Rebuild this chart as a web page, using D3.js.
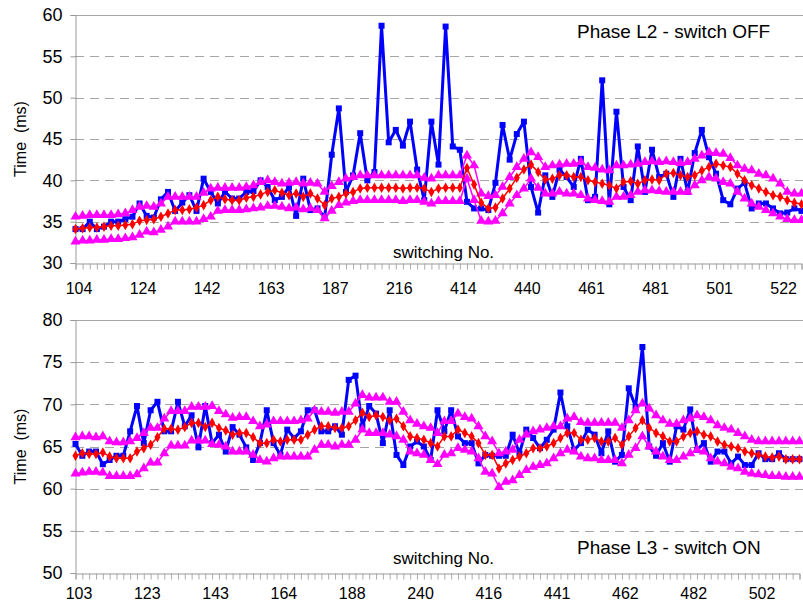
<!DOCTYPE html>
<html>
<head>
<meta charset="utf-8">
<script src="https://cdn.jsdelivr.net/npm/d3@7/dist/d3.min.js"></script>
<style>
  body { margin: 0; background: #fff; }
  svg { display: block; font-family: "Liberation Sans", Arial, sans-serif; }
</style>
</head>
<body>
<svg id="chart" width="803" height="605"></svg>
<script>
// Phase L2 - switch OFF (top) and Phase L3 - switch ON (bottom), times in ms
var topLabels = [104, 124, 142, 163, 187, 216, 414, 440, 461, 481, 501, 522];
var topMeasured = [34.1, 34.1, 35.0, 34.1, 34.4, 35.0, 35.0, 35.3, 35.6, 37.2, 35.7, 35.5, 37.7, 38.6, 36.3, 37.3, 38.2, 36.3, 40.2, 38.6,
  37.2, 38.6, 37.8, 37.8, 38.6, 38.7, 40.0, 39.2, 37.6, 38.0, 39.2, 35.7, 40.2, 36.4, 36.6, 35.5, 43.1, 48.7, 38.6, 40.6,
  45.7, 40.0, 41.0, 58.7, 44.6, 46.1, 44.2, 47.1, 41.3, 37.6, 47.1, 41.9, 58.6, 44.1, 43.7, 37.4, 36.6, 36.6, 36.4, 39.7,
  46.7, 42.5, 45.6, 47.1, 39.2, 36.1, 40.6, 38.0, 41.3, 40.4, 39.2, 42.6, 37.6, 38.0, 52.1, 37.1, 48.3, 39.2, 37.6, 44.1,
  38.6, 43.7, 40.4, 40.8, 38.0, 42.6, 38.6, 43.3, 46.1, 42.8, 40.8, 37.6, 37.1, 39.0, 39.7, 36.6, 37.2, 37.2, 36.6, 36.0,
  36.1, 36.6, 36.3];
var topMean = [34.1, 34.2, 34.3, 34.3, 34.4, 34.5, 34.5, 34.6, 34.7, 35.1, 35.2, 35.3, 35.6, 36.0, 36.4, 36.4, 36.5, 36.7, 37.0, 37.6,
  38.0, 37.7, 37.6, 37.6, 37.9, 38.0, 38.3, 38.6, 38.8, 38.5, 38.2, 38.4, 38.0, 38.4, 37.8, 37.0, 37.8, 38.0, 38.4, 38.6,
  39.0, 39.1, 39.1, 39.1, 39.1, 39.1, 39.0, 39.1, 39.1, 39.0, 38.6, 39.0, 39.1, 39.1, 39.1, 41.5, 39.5, 37.3, 36.6, 36.7,
  37.8, 39.0, 40.3, 41.3, 41.9, 41.0, 40.1, 40.2, 40.6, 40.6, 40.4, 40.4, 40.0, 39.8, 39.6, 39.4, 39.0, 39.8, 39.9, 39.6,
  40.0, 40.1, 40.0, 40.8, 40.9, 40.6, 40.4, 40.6, 41.2, 41.6, 42.0, 41.8, 41.6, 40.8, 40.0, 39.4, 39.0, 38.6, 38.2, 38.0,
  37.6, 37.3, 37.1];
var topUpper = [35.6, 35.7, 35.8, 35.8, 35.8, 35.8, 35.9, 36.0, 36.4, 36.8, 36.9, 36.8, 37.2, 38.0, 38.0, 38.0, 38.0, 38.0, 38.5, 39.0,
  39.1, 39.1, 39.1, 39.1, 39.2, 39.4, 39.8, 40.0, 39.8, 39.6, 39.7, 39.8, 39.6, 39.7, 39.6, 38.6, 39.3, 39.8, 40.2, 40.4,
  40.6, 40.6, 40.6, 40.6, 40.6, 40.6, 40.6, 40.6, 40.6, 40.3, 40.2, 40.6, 40.6, 40.6, 40.6, 43.0, 41.8, 38.4, 38.1, 38.2,
  39.2, 40.4, 41.6, 42.6, 43.4, 42.8, 41.6, 41.8, 41.9, 42.0, 42.0, 42.2, 41.6, 41.5, 41.3, 41.2, 41.8, 41.8, 41.9, 42.0,
  42.2, 42.3, 42.2, 42.3, 42.2, 42.1, 42.2, 42.6, 43.0, 43.4, 43.3, 43.2, 42.7, 41.8, 41.4, 41.2, 40.8, 40.6, 40.2, 39.6,
  38.6, 38.4, 38.4];
var topLower = [32.6, 32.7, 32.7, 32.8, 32.8, 32.9, 32.9, 33.0, 33.1, 33.4, 33.8, 33.7, 34.0, 34.4, 35.0, 35.0, 35.0, 35.0, 35.3, 35.6,
  36.3, 36.4, 36.4, 36.4, 36.5, 36.6, 36.7, 36.9, 36.9, 36.8, 36.6, 36.7, 36.5, 36.6, 36.4, 35.4, 36.3, 37.0, 37.3, 37.5,
  37.6, 37.6, 37.6, 37.6, 37.6, 37.6, 37.5, 37.6, 37.6, 37.4, 37.2, 37.5, 37.5, 37.5, 37.5, 40.2, 37.6, 35.1, 35.0, 35.1,
  36.0, 37.2, 38.2, 39.0, 40.2, 39.1, 38.4, 38.4, 38.6, 38.4, 38.4, 38.2, 37.8, 37.6, 37.5, 37.4, 38.0, 38.0, 38.2, 38.6,
  38.8, 38.8, 38.7, 38.6, 38.6, 38.6, 38.6, 39.4, 40.0, 40.4, 40.2, 39.8, 39.6, 38.6, 37.8, 37.2, 36.8, 36.4, 36.0, 35.6,
  35.3, 35.2, 35.2];

var botLabels = [103, 123, 143, 164, 188, 240, 416, 441, 462, 482, 502];
var botMeasured = [65.3, 63.9, 64.4, 64.4, 62.9, 63.4, 63.9, 63.9, 66.8, 69.8, 65.4, 69.3, 70.3, 66.8, 66.8, 70.3, 67.4, 68.7, 64.9, 69.8,
  65.4, 66.4, 64.4, 67.3, 66.4, 64.9, 63.4, 65.4, 69.3, 65.4, 64.0, 67.0, 66.0, 66.8, 69.3, 69.3, 66.8, 66.8, 67.4, 66.4,
  72.9, 73.4, 67.4, 69.8, 68.9, 65.4, 69.3, 64.0, 62.8, 65.0, 65.6, 65.0, 63.4, 69.3, 66.8, 69.3, 66.2, 65.4, 65.4, 63.0,
  64.0, 63.9, 63.9, 63.9, 66.4, 64.2, 67.0, 66.0, 64.8, 65.8, 67.0, 71.4, 67.4, 64.6, 65.4, 67.0, 66.4, 64.2, 66.8, 63.2,
  64.0, 71.9, 69.7, 76.8, 65.0, 63.9, 65.4, 63.2, 67.4, 67.0, 69.4, 64.6, 65.4, 63.2, 64.4, 64.4, 63.0, 63.8, 62.8, 62.8,
  64.2, 63.5, 63.5, 64.2, 63.5, 63.5, 63.5];
var botMean = [63.9, 64.2, 64.1, 64.1, 64.3, 63.8, 63.6, 63.6, 63.6, 64.4, 64.8, 65.2, 66.1, 67.1, 67.1, 67.0, 67.3, 67.8, 67.8, 67.3,
  67.8, 67.2, 66.9, 66.4, 66.6, 66.6, 66.1, 65.4, 65.4, 65.8, 65.6, 65.8, 65.8, 65.8, 66.4, 67.0, 67.4, 67.4, 67.2, 67.2,
  67.4, 68.1, 69.0, 68.5, 68.7, 68.5, 68.1, 68.3, 67.4, 66.2, 66.0, 65.8, 65.4, 65.0, 66.2, 66.2, 67.0, 66.6, 66.2, 65.4,
  64.0, 64.0, 62.4, 63.0, 63.4, 63.8, 64.2, 64.8, 64.8, 65.0, 65.4, 66.0, 66.6, 66.6, 65.8, 65.8, 66.0, 65.6, 65.6, 66.0,
  65.2, 66.2, 67.2, 68.1, 67.2, 66.6, 66.2, 65.6, 65.6, 66.2, 66.6, 66.8, 66.4, 66.2, 65.6, 65.2, 65.0, 64.8, 64.4, 64.2,
  64.0, 63.8, 63.7, 63.8, 63.5, 63.5, 63.5];
var botUpper = [66.1, 66.2, 66.2, 66.1, 66.2, 65.6, 65.5, 65.5, 65.6, 66.0, 66.6, 67.2, 67.2, 68.3, 69.2, 69.2, 69.2, 69.7, 69.7, 69.7,
  69.8, 69.2, 68.8, 68.4, 68.5, 68.5, 68.0, 67.4, 67.6, 68.0, 68.0, 68.0, 68.0, 68.1, 68.3, 69.3, 69.1, 69.1, 69.0, 69.1,
  69.1, 70.1, 71.1, 70.8, 70.8, 70.8, 70.3, 70.3, 69.1, 68.1, 67.7, 67.4, 67.2, 66.6, 68.0, 68.0, 68.9, 68.5, 68.3, 67.4,
  66.2, 65.6, 64.2, 64.4, 64.6, 65.8, 66.4, 66.8, 67.0, 67.2, 67.4, 67.4, 68.3, 68.5, 67.9, 67.8, 67.8, 67.8, 67.8, 67.8,
  67.2, 68.1, 69.3, 70.1, 69.5, 68.7, 68.1, 67.7, 67.7, 68.1, 68.3, 68.7, 68.5, 68.1, 67.5, 67.2, 67.0, 66.6, 66.2, 65.8,
  65.6, 65.6, 65.6, 65.6, 65.6, 65.6, 65.6];
var botLower = [61.8, 61.9, 62.0, 62.0, 61.9, 61.5, 61.5, 61.5, 61.5, 61.7, 62.4, 63.1, 63.1, 64.2, 65.1, 65.1, 65.1, 65.7, 65.7, 65.7,
  65.3, 65.2, 65.0, 64.4, 64.4, 64.4, 64.0, 63.4, 63.2, 63.6, 63.8, 63.8, 63.8, 63.8, 63.8, 64.6, 65.2, 65.2, 65.0, 65.2,
  65.2, 65.8, 67.0, 66.6, 66.6, 66.6, 66.4, 66.2, 65.8, 64.4, 64.2, 64.0, 63.4, 62.9, 64.0, 64.2, 64.8, 64.6, 64.4, 63.6,
  62.0, 61.8, 60.2, 60.8, 61.0, 61.6, 62.2, 62.6, 62.8, 63.0, 63.6, 64.2, 64.6, 64.4, 63.8, 63.6, 63.6, 63.4, 63.4, 63.4,
  63.0, 64.0, 64.8, 66.2, 65.0, 64.4, 63.8, 63.4, 63.4, 63.8, 64.2, 64.6, 64.4, 63.6, 63.2, 63.0, 62.6, 62.4, 62.0, 61.8,
  61.7, 61.6, 61.5, 61.5, 61.4, 61.4, 61.4];

var svg = d3.select('#chart');
svg.append('rect').attr('width', 803).attr('height', 605).attr('fill', '#fff');

function drawPanel(opt) {
	var x = d3.scaleLinear().domain([0, opt.measured.length - 1]).range([75.5, opt.xEnd]);
	var y = d3.scaleLinear().domain(opt.yDomain).range([opt.bottom, opt.top]);
	var g = svg.append('g');
	var yTicks = d3.range(opt.yDomain[0], opt.yDomain[1] + 1, 5);

	// dashed grid
	g.selectAll('.grid')
		.data(yTicks.slice(1, -1))
		.join('line')
			.attr('x1', 75).attr('x2', 803)
			.attr('y1', function(d) { return Math.round(y(d)) + 0.5; })
			.attr('y2', function(d) { return Math.round(y(d)) + 0.5; })
			.attr('stroke', '#a6a6a6')
			.attr('stroke-dasharray', '9,6');

	// top border of plot area
	g.append('line')
		.attr('x1', 75).attr('x2', 803)
		.attr('y1', opt.top + 0.5).attr('y2', opt.top + 0.5)
		.attr('stroke', '#a6a6a6');

	var yAxis = g.append('g')
		.attr('transform', 'translate(75.5,0)')
		.call(d3.axisLeft(y).tickValues(yTicks).tickSize(5).tickPadding(8));
	yAxis.select('.domain').attr('stroke', '#999');
	yAxis.selectAll('.tick line').attr('stroke', '#999');
	yAxis.selectAll('text').attr('font-size', 18).attr('fill', '#000')
		.attr('font-family', '"Liberation Sans", Arial, sans-serif');

	var idx = d3.range(opt.measured.length);
	var xAxis = g.append('g')
		.attr('transform', 'translate(0,' + (opt.bottom + 0.5) + ')')
		.call(d3.axisBottom(x).tickValues(idx).tickSize(6).tickPadding(opt.labelPad)
			.tickFormat(function(i) { return i % opt.step === 0 ? opt.labels[i / opt.step] : ''; }));
	xAxis.select('.domain').attr('stroke', '#999');
	xAxis.selectAll('.tick line').attr('stroke', '#aaa');
	xAxis.selectAll('text').attr('font-size', 16).attr('fill', '#000').attr('dx', 3)
		.attr('font-family', '"Liberation Sans", Arial, sans-serif');

	g.append('text')
		.attr('transform', 'translate(26,' + ((opt.top + opt.bottom) / 2) + ') rotate(-90)')
		.attr('text-anchor', 'middle')
		.attr('font-size', 16)
		.style('white-space', 'pre')
		.text('Time  (ms)');

	var clipId = 'clip' + opt.top;
	g.append('clipPath').attr('id', clipId)
		.append('rect').attr('x', 70).attr('y', opt.top - 10).attr('width', 733).attr('height', opt.bottom - opt.top + 15);
	var plot = g.append('g').attr('clip-path', 'url(#' + clipId + ')');

	var line = d3.line()
		.x(function(d, i) { return x(i); })
		.y(function(d) { return y(d); });

	function series(values, color, width, shape, size) {
		plot.append('path')
			.datum(values)
			.attr('fill', 'none')
			.attr('stroke', color)
			.attr('stroke-width', width)
			.attr('stroke-linejoin', 'round')
			.attr('d', line);
		plot.append('g').selectAll('path')
			.data(values)
			.join('path')
				.attr('transform', function(d, i) { return 'translate(' + x(i) + ',' + y(d) + ')'; })
				.attr('d', d3.symbol().type(shape).size(size))
				.attr('fill', color);
	}

	series(opt.measured, '#0000ff', 3, d3.symbolSquare, 36);
	series(opt.upper, '#ff00ff', 1.5, d3.symbolTriangle, 44);
	series(opt.lower, '#ff00ff', 1.5, d3.symbolTriangle, 44);
	series(opt.mean, '#ff0000', 1.5, d3.symbolDiamond, 32);

	g.append('text')
		.attr('x', 393).attr('y', opt.axisTitleY)
		.attr('font-size', 17)
		.text('switching No.');
	g.append('text')
		.attr('x', 577).attr('y', opt.phaseY)
		.attr('font-size', 19)
		.text(opt.phase);
}

drawPanel({
	measured: topMeasured, mean: topMean, upper: topUpper, lower: topLower,
	labels: topLabels, step: 9, xEnd: 801.5,
	yDomain: [30, 60], top: 15, bottom: 263, labelPad: 13,
	axisTitleY: 258, phaseY: 38, phase: 'Phase L2 - switch OFF'
});

drawPanel({
	measured: botMeasured, mean: botMean, upper: botUpper, lower: botLower,
	labels: botLabels, step: 10, xEnd: 799.5,
	yDomain: [50, 80], top: 320, bottom: 573, labelPad: 8,
	axisTitleY: 564, phaseY: 554, phase: 'Phase L3 - switch ON'
});
</script>
</body>
</html>
